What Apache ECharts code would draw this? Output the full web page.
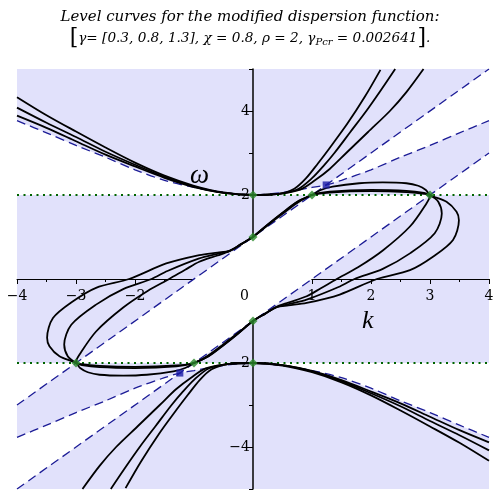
<!DOCTYPE html>
<html>
<head>
<meta charset="utf-8">
<script src="https://cdn.jsdelivr.net/npm/echarts@6/dist/echarts.min.js"></script>
<style>
html, body { margin: 0; padding: 0; background: #fff; }
#chart { width: 500px; height: 500px; }
</style>
</head>
<body>
<div id="chart"></div>
<script>
// dashed reference curves
const hUpper = [[-4,3.77],[-3.5,3.48],[-3,3.18],[-2.5,2.9],[-2,2.6],[-1.5,2.35],[-1,2.18],[-0.5,2.06],[0,2],[0.5,2.06],[1,2.18],[1.24,2.24],[1.5,2.35],[2,2.6],[2.5,2.9],[3,3.18],[3.5,3.48],[4,3.77]];
const hLower = [[-4,-3.77],[-3.5,-3.48],[-3,-3.18],[-2.5,-2.9],[-2,-2.6],[-1.5,-2.35],[-1.24,-2.24],[-1,-2.18],[-0.5,-2.06],[0,-2],[0.5,-2.06],[1,-2.18],[1.5,-2.35],[2,-2.6],[2.5,-2.9],[3,-3.18],[3.5,-3.48],[4,-3.77]];
const lineKplus1 = [[-4,-3],[4,5]];
const lineKminus1 = [[-4,-5],[4,3]];
const dottedUp = [[-4,2],[4,2]];
const dottedDown = [[-4,-2],[4,-2]];

// marked points
const greenPts = [[0,2],[1,2],[3,2],[0,1],[0,-1],[0,-2],[-1,-2],[-3,-2]];
const bluePts = [[1.24,2.24],[-1.24,-2.24]];

// level curves, upper branches
const topA = [[-4,4.33],[-3.5,3.9],[-3,3.51],[-2.5,3.13],[-2,2.77],[-1.5,2.46],[-1,2.22],[-0.5,2.06],[0,2],[0.4,2.02],[0.8,2.13],[1.05,2.35],[1.3,2.62],[1.58,3.0],[1.95,3.5],[2.32,4.0],[2.6,4.45],[2.89,5.0]];
const topB = [[-4,4.08],[-3.5,3.72],[-3,3.38],[-2.5,3.03],[-2,2.72],[-1.5,2.43],[-1,2.2],[-0.5,2.05],[0,2],[0.4,2.02],[0.75,2.13],[1.0,2.4],[1.2,2.7],[1.38,3.0],[1.65,3.5],[1.92,4.0],[2.17,4.5],[2.41,5.0]];
const topC = [[-4,3.89],[-3.5,3.6],[-3,3.28],[-2.5,2.96],[-2,2.68],[-1.5,2.41],[-1,2.19],[-0.5,2.05],[0,2],[0.4,2.02],[0.7,2.15],[0.9,2.4],[1.1,2.75],[1.3,3.12],[1.6,3.7],[1.9,4.35],[2.16,4.98]];
// lower branches
const botA = [[-2.89,-5.0],[-2.6,-4.45],[-2.32,-4.0],[-1.95,-3.5],[-1.58,-3.0],[-1.3,-2.62],[-1.05,-2.35],[-0.8,-2.13],[-0.4,-2.02],[0,-2],[0.5,-2.06],[1,-2.22],[1.5,-2.46],[2,-2.77],[2.5,-3.13],[3,-3.51],[3.5,-3.9],[4,-4.33]];
const botB = [[-2.41,-5.0],[-2.17,-4.5],[-1.92,-4.0],[-1.65,-3.5],[-1.38,-3.0],[-1.2,-2.7],[-1.0,-2.4],[-0.75,-2.13],[-0.4,-2.02],[0,-2],[0.5,-2.05],[1,-2.2],[1.5,-2.43],[2,-2.72],[2.5,-3.03],[3,-3.38],[3.5,-3.72],[4,-4.08]];
const botC = [[-2.16,-4.98],[-1.9,-4.35],[-1.6,-3.7],[-1.3,-3.12],[-1.1,-2.75],[-0.9,-2.4],[-0.7,-2.15],[-0.4,-2.02],[0,-2],[0.5,-2.05],[1,-2.19],[1.5,-2.41],[2,-2.68],[2.5,-2.96],[3,-3.28],[3.5,-3.6],[4,-3.89]];
// closed loops through (0,1), (1,2), (3,2), (0,-1), (-1,-2), (-3,-2)
const loopInner = [[0,1],[0.25,1.28],[0.5,1.55],[0.75,1.81],[1,2],[1.3,2.06],[2,2.09],[2.6,2.07],[2.9,2.03],[3,1.98],[2.94,1.8],[2.66,1.25],[2.2,0.68],[1.78,0.28],[1.42,0],[1.15,-0.22],[0.91,-0.41],[0.6,-0.56],[0.4,-0.66],[0.2,-0.83],[0,-1],
  [-0.25,-1.28],[-0.5,-1.55],[-0.75,-1.81],[-1,-2],[-1.3,-2.06],[-2,-2.09],[-2.6,-2.07],[-2.9,-2.03],[-3,-1.98],[-2.94,-1.8],[-2.66,-1.25],[-2.2,-0.68],[-1.78,-0.28],[-1.42,0],[-1.15,0.22],[-0.91,0.41],[-0.6,0.56],[-0.4,0.66],[-0.2,0.83],[0,1]];
const loopMid = [[0,1],[0.25,1.29],[0.5,1.57],[0.75,1.83],[1,2],[1.3,2.08],[2,2.12],[2.6,2.1],[2.9,2.05],[3,2],[3.14,1.84],[3.2,1.56],[3.08,1.09],[2.66,0.61],[2.2,0.24],[1.72,0],[1.45,-0.19],[0.91,-0.49],[0.6,-0.6],[0.4,-0.67],[0.2,-0.83],[0,-1],
  [-0.25,-1.29],[-0.5,-1.57],[-0.75,-1.83],[-1,-2],[-1.3,-2.08],[-2,-2.12],[-2.6,-2.1],[-2.9,-2.05],[-3,-2],[-3.14,-1.84],[-3.2,-1.56],[-3.08,-1.09],[-2.66,-0.61],[-2.2,-0.24],[-1.72,0],[-1.45,0.19],[-0.91,0.49],[-0.6,0.6],[-0.4,0.67],[-0.2,0.83],[0,1]];
const loopOuter = [[0,1],[0.25,1.3],[0.5,1.58],[0.75,1.84],[1,2],[1.15,2.12],[1.35,2.2],[1.8,2.28],[2.2,2.3],[2.6,2.28],[2.8,2.22],[2.93,2.12],[3,2],[3.28,1.84],[3.45,1.6],[3.49,1.4],[3.39,0.93],[3.05,0.53],[2.66,0.21],[2.1,0],[1.47,-0.37],[0.91,-0.57],[0.6,-0.63],[0.4,-0.67],[0.2,-0.83],[0,-1],
  [-0.25,-1.3],[-0.5,-1.58],[-0.75,-1.84],[-1,-2],[-1.15,-2.12],[-1.35,-2.2],[-1.8,-2.28],[-2.2,-2.3],[-2.6,-2.28],[-2.8,-2.22],[-2.93,-2.12],[-3,-2],[-3.28,-1.84],[-3.45,-1.6],[-3.49,-1.4],[-3.39,-0.93],[-3.05,-0.53],[-2.66,-0.21],[-2.1,0],[-1.47,0.37],[-0.91,0.57],[-0.6,0.63],[-0.4,0.67],[-0.2,0.83],[0,1]];

// white (unshaded) regions, built from the dashed curves and lines above
const kCross = bluePts[0][0];
const whiteRegions = [
  // upper left: between max(2, k+1) and the upper dashed curve
  [[-4,2],[1,2],bluePts[0]].concat(hUpper.filter(p => p[0] < kCross).reverse()),
  // upper right wedge: between the upper dashed curve and k+1
  [bluePts[0]].concat(hUpper.filter(p => p[0] > kCross), [lineKplus1[1]]),
  [[3,2],[4,2],lineKminus1[1]],
  // central band between k-1 and k+1, |w| < 2
  [[-3,-2],[-1,-2],[3,2],[1,2]],
  // lower mirrors
  [[4,-2],[-1,-2],bluePts[1]].concat(hLower.filter(p => p[0] > bluePts[1][0])),
  [bluePts[1]].concat(hLower.filter(p => p[0] < bluePts[1][0]).reverse(), [lineKminus1[0]]),
  [[-3,-2],[-4,-2],lineKplus1[0]]
];

const serif = 'DejaVu Serif';
const minus = v => String(v).replace('-', '\u2212');

const curve = data => ({
  type: 'line', data: data, showSymbol: false, smooth: 0.3, z: 5,
  lineStyle: { color: '#000', width: 1.8 }, silent: true
});
const dashed = data => ({
  type: 'line', data: data, showSymbol: false, smooth: 0.3, z: 4,
  lineStyle: { color: '#1c1c96', width: 1.3, type: [9, 5] }, silent: true
});
const dotted = data => ({
  type: 'line', data: data, showSymbol: false, z: 4,
  lineStyle: { color: '#006400', width: 2, type: [2, 4.5] }, silent: true
});

let chart = echarts.init(document.getElementById('chart'));
let option = {
  animation: false,
  title: [
    {
      text: 'Level curves for the modified dispersion function:',
      left: 'center', top: 5,
      textStyle: { fontFamily: serif, fontStyle: 'italic', fontWeight: 'normal', fontSize: 15, color: '#000' }
    },
    {
      text: '{b|[}\u03b3= [0.3, 0.8, 1.3], \u03c7 = 0.8, \u03c1 = 2, \u03b3{s|Pcr} = 0.002641{b|]}.',
      left: 'center', top: 22,
      textStyle: {
        fontFamily: serif, fontStyle: 'italic', fontWeight: 'normal', fontSize: 13.6, color: '#000',
        rich: {
          b: { fontFamily: serif, fontStyle: 'normal', fontSize: 22, color: '#000' },
          s: { fontFamily: serif, fontStyle: 'italic', fontSize: 10, color: '#000', padding: [9, 0, 0, 0] }
        }
      }
    }
  ],
  grid: {
    left: 17, right: 11, top: 69, bottom: 11,
    outerBoundsMode: 'none', containLabel: false,
    show: true, backgroundColor: '#e1e1fb', borderWidth: 0
  },
  xAxis: {
    type: 'value', min: -4, max: 4, interval: 1, position: 'bottom', offset: -210,
    axisLine: { onZero: false, lineStyle: { color: '#000', width: 1 } },
    axisTick: { show: true, length: 5, lineStyle: { color: '#000' } },
    minorTick: { show: true, splitNumber: 2, length: 3, lineStyle: { color: '#000' } },
    splitLine: { show: false },
    axisLabel: {
      color: '#000', fontFamily: serif, fontSize: 14, margin: 10,
      formatter: v => v === 0 ? '' : minus(v)
    }
  },
  yAxis: {
    type: 'value', min: -5, max: 5, interval: 1, position: 'left', offset: -236,
    axisLine: { onZero: false, lineStyle: { color: '#000', width: 1.5 } },
    axisTick: { show: true, length: 4, lineStyle: { color: '#000' } },
    splitLine: { show: false },
    axisLabel: {
      color: '#000', fontFamily: serif, fontSize: 14, margin: 3,
      formatter: v => (v !== 0 && v % 2 === 0) ? minus(v) : ''
    }
  },
  graphic: [
    { type: 'text', left: 240, top: 289, z: 100, silent: true,
      style: { text: '0', font: '14px "DejaVu Serif"', fill: '#000' } },
    { type: 'text', left: 190, top: 162, z: 100, silent: true,
      style: { text: '\u03c9', font: 'italic 27px "Liberation Serif"', fill: '#000' } },
    { type: 'text', left: 362, top: 308, z: 100, silent: true,
      style: { text: 'k', font: 'italic 26px "Liberation Serif"', fill: '#000' } }
  ],
  series: [
    {
      type: 'custom', z: 1, silent: true, clip: true,
      data: whiteRegions.map((r, i) => [0, 0, i]),
      renderItem: (params, api) => ({
        type: 'polygon',
        shape: { points: whiteRegions[params.dataIndex].map(p => api.coord(p)) },
        style: { fill: '#ffffff' }
      })
    },
    dashed(hUpper), dashed(hLower), dashed(lineKplus1), dashed(lineKminus1),
    dotted(dottedUp), dotted(dottedDown),
    curve(topA), curve(topB), curve(topC),
    curve(botA), curve(botB), curve(botC),
    curve(loopInner), curve(loopMid), curve(loopOuter),
    {
      type: 'scatter', data: greenPts, symbol: 'diamond', symbolSize: 9, z: 6, silent: true,
      itemStyle: { color: '#2b8a2b' }
    },
    {
      type: 'scatter', data: bluePts, symbol: 'rect', symbolSize: 7, z: 6, silent: true,
      itemStyle: { color: '#1a1aa6' }
    }
  ]
};
chart.setOption(option);
</script>
</body>
</html>
